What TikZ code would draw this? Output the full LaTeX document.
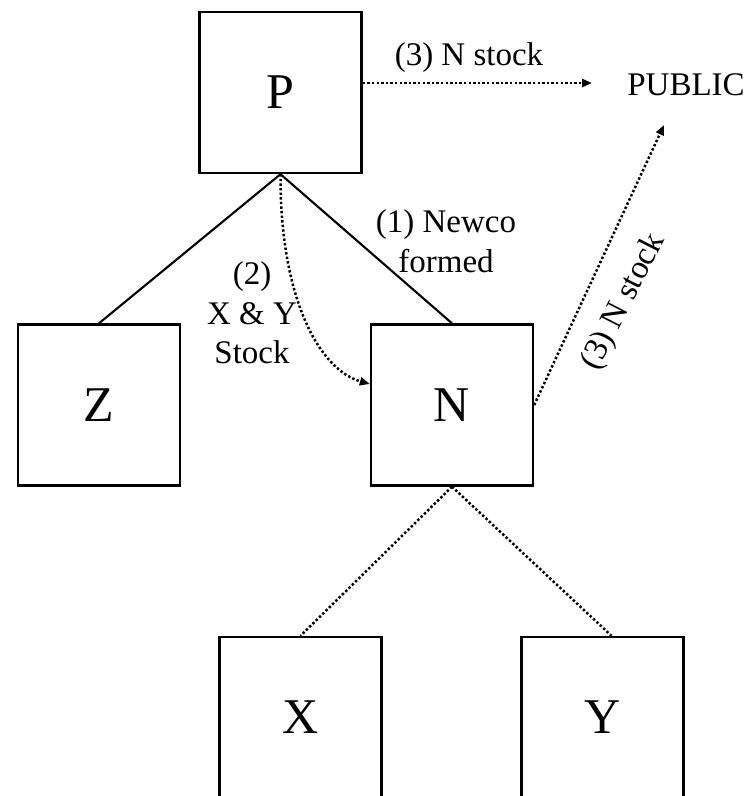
\documentclass[tikz,border=0pt]{standalone}
\usepackage{fontspec}
\setmainfont{Liberation Serif}
\usetikzlibrary{arrows.meta}
\begin{document}
\begin{tikzpicture}[x=1pt,y=-1pt,
  entity/.style={draw, line width=2.4pt, minimum width=162pt, minimum height=161pt,
    inner sep=0pt, font=\fontsize{50}{50}\selectfont},
  lbl/.style={inner sep=0pt, align=center, font=\fontsize{33}{39.5}\selectfont},
  own/.style={line width=2.1pt},
  dotline/.style={line width=2.5pt, dash pattern=on 2.4pt off 2.2pt},
  flow/.style={dotline, -{Triangle[length=10pt,width=8pt]}}
]
% page frame
\fill[white] (0,0) rectangle (749,796);
\useasboundingbox (0,0) rectangle (749,796);

% companies
\node[entity] (P) at (280.5,92.5) {P};
\node[entity] (Z) at (99,405) {Z};
\node[entity] (N) at (452,405) {N};
\node[entity] (X) at (300.5,717.5) {X};
\node[entity] (Y) at (602.5,717.5) {Y};

% shareholders
\node[lbl, anchor=base] (PUB) at (686,95) {PUBLIC};
\coordinate (pubA) at (592,83);
\coordinate (pubB) at (664,125);

% ownership lines
\draw[own] (P.south) -- (Z.north);
\draw[own] (P.south) -- (N.north);
\draw[dotline] (N.south) -- (X.north);
\draw[dotline] (N.south) -- ([xshift=9pt]Y.north);

% stock transfers
\draw[flow] (P.south) .. controls (280,300) and (320,370) .. ([yshift=21pt]N.west);
\draw[flow] ([yshift=9.5pt]P.east) -- (pubA);
\draw[flow] (N.east) -- (pubB);

% step labels
\node[lbl, anchor=base] (l3a) at (469,65) {(3) N stock};
\node[lbl] (l1) at (446,241) {(1) Newco\\formed};
\node[lbl] (l2) at (252,313) {(2)\\X \& Y\\Stock};
\node[lbl, rotate=63] (l3b) at (624,302) {(3) N stock};
\end{tikzpicture}
\end{document}
